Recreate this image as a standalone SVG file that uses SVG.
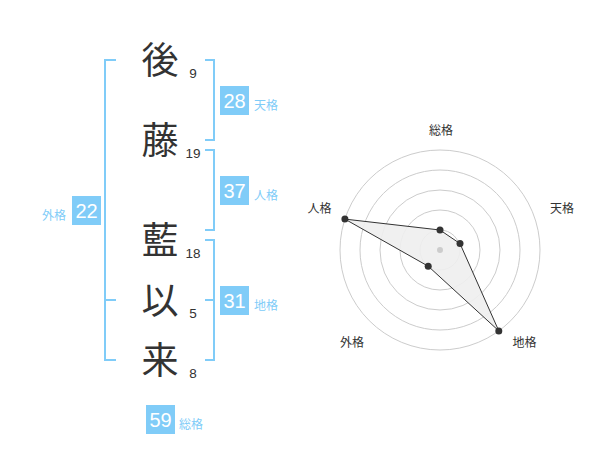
<svg xmlns="http://www.w3.org/2000/svg" width="600" height="470" viewBox="0 0 600 470">
<style>
.bg{fill:#ffffff}
.br{fill:none;stroke:#80ccf8;stroke-width:2}
.box{fill:#80ccf8}
.bn{font-family:"Liberation Sans","Noto Sans CJK JP",sans-serif;font-size:20px;fill:#ffffff;text-anchor:middle}
.bl{font-family:"Noto Sans CJK JP",sans-serif;font-size:12px;fill:#80ccf8}
.ch{font-family:"Noto Sans CJK JP",sans-serif;font-size:37px;fill:#333333;text-anchor:middle}
.st{font-family:"Liberation Sans",sans-serif;font-size:13.5px;fill:#333333;text-anchor:middle}
.ring{fill:none;stroke:#cccccc;stroke-width:1}
.rl{font-family:"Noto Sans CJK JP",sans-serif;font-size:12px;fill:#333333;text-anchor:middle}
.poly{fill:#eeeeee;fill-opacity:0.9;stroke:#333333;stroke-width:1}
.dot{fill:#333333}
</style>
<rect class="bg" x="0" y="0" width="600" height="470"/>
<g id="connectors">
<path class="br" d="M116,60 H105 V360 H116 M105,300 H116"/>
<path class="br" d="M205,60 H214 V140 H205"/>
<path class="br" d="M205,150 H214 V230 H205"/>
<path class="br" d="M205,240 H214 V360 H205 M205,300 H214"/>
</g>
<g id="char1"><text class="ch" x="160" y="74">後</text><text class="st" x="193" y="78">9</text></g>
<g id="char2"><text class="ch" x="160" y="154">藤</text><text class="st" x="193" y="158">19</text></g>
<g id="char3"><text class="ch" x="160" y="254">藍</text><text class="st" x="193" y="258">18</text></g>
<g id="char4"><text class="ch" x="160" y="314">以</text><text class="st" x="193" y="318">5</text></g>
<g id="char5"><text class="ch" x="160" y="374">来</text><text class="st" x="193" y="378">8</text></g>
<g id="tenkaku"><rect class="box" x="220" y="86" width="29" height="29"/><text class="bn" x="234.5" y="108">28</text><text class="bl" x="254" y="109.5">天格</text></g>
<g id="jinkaku"><rect class="box" x="220" y="176" width="29" height="29"/><text class="bn" x="234.5" y="198">37</text><text class="bl" x="254" y="199.5">人格</text></g>
<g id="chikaku"><rect class="box" x="220" y="286" width="29" height="29"/><text class="bn" x="234.5" y="308">31</text><text class="bl" x="254" y="309.5">地格</text></g>
<g id="gaikaku"><rect class="box" x="72" y="196" width="29" height="29"/><text class="bn" x="86.5" y="218">22</text><text class="bl" x="66" y="219.5" text-anchor="end">外格</text></g>
<g id="soukaku"><rect class="box" x="146" y="405" width="29" height="29"/><text class="bn" x="160.5" y="427">59</text><text class="bl" x="179" y="428.5">総格</text></g>
<g id="radar">
<circle class="ring" cx="440" cy="250" r="20"/>
<circle class="ring" cx="440" cy="250" r="40"/>
<circle class="ring" cx="440" cy="250" r="60"/>
<circle class="ring" cx="440" cy="250" r="80"/>
<circle class="ring" cx="440" cy="250" r="100"/>
<polygon class="poly" points="440,230 460,243.6 498.8,330.9 428.2,266.2 344.9,219.1"/>
<circle cx="440" cy="250" r="3" fill="#cccccc"/>
<circle class="dot" cx="440" cy="230" r="3.5"/>
<circle class="dot" cx="460" cy="243.6" r="3.5"/>
<circle class="dot" cx="498.8" cy="330.9" r="3.5"/>
<circle class="dot" cx="428.2" cy="266.2" r="3.5"/>
<circle class="dot" cx="344.9" cy="219.1" r="3.5"/>
<text class="rl" x="441" y="135">総格</text>
<text class="rl" x="562" y="213">天格</text>
<text class="rl" x="524.5" y="347">地格</text>
<text class="rl" x="352" y="347">外格</text>
<text class="rl" x="319.5" y="213">人格</text>
</g>
</svg>
